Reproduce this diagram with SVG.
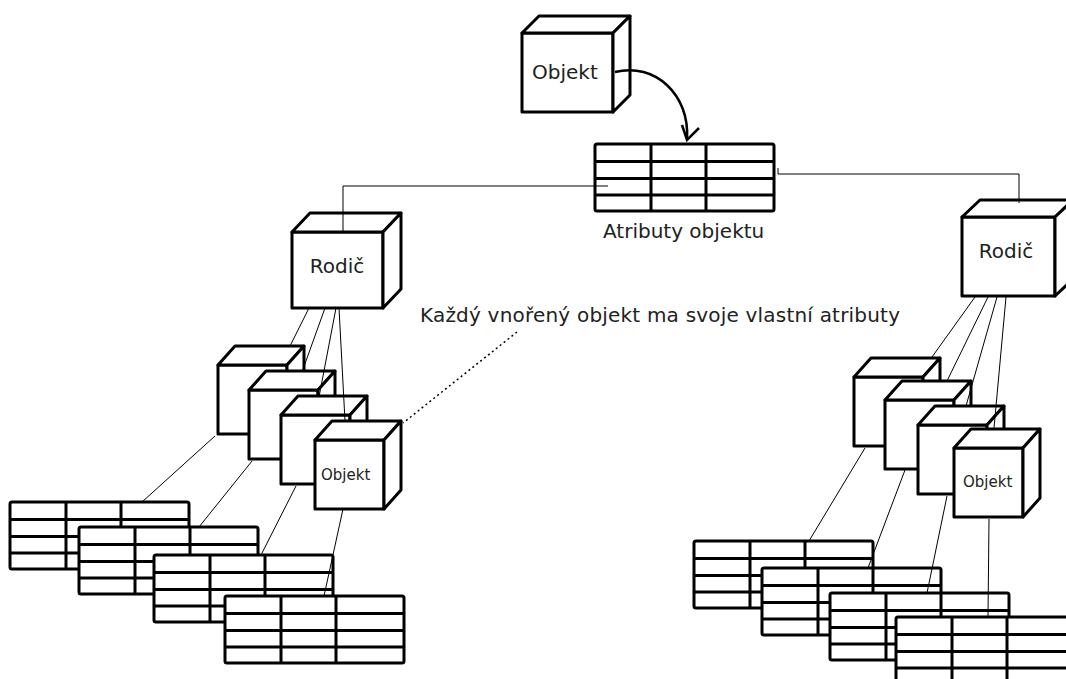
<svg xmlns="http://www.w3.org/2000/svg" xmlns:xlink="http://www.w3.org/1999/xlink" width="1066" height="679" viewBox="0 0 1066 679">
<style>
.c{fill:#fff;stroke:#000;stroke-width:3;stroke-linejoin:round}
.t{fill:#fff;stroke:#000;stroke-width:3}
.tl{stroke:#000;stroke-width:3;fill:none}
.ln{stroke:#000;stroke-width:1;fill:none}
.dot{stroke:#000;stroke-width:1.5;fill:none;stroke-dasharray:2 3}
.lbl{font-family:"DejaVu Sans",sans-serif;font-size:20px;fill:#222}
.sm{font-family:"DejaVu Sans",sans-serif;font-size:15px;fill:#222}
</style>
<defs>
<g id="tbl">
<rect class="t" x="0" y="0" width="179" height="67" rx="2"/>
<path class="tl" d="M0 17.5H179M0 34.5H179M0 51H179M56 0V67M111 0V67"/>
</g>
<g id="cb">
<rect class="c" x="0" y="0" width="69" height="69"/>
<polygon class="c" points="0,0 17,-19 86,-19 69,0"/>
<polygon class="c" points="69,0 86,-19 86,50 69,69"/>
</g>
</defs>

<g id="top-objekt">
<rect class="c" x="522" y="33" width="91" height="79"/>
<polygon class="c" points="522,33 539,16 630,16 613,33"/>
<polygon class="c" points="613,33 630,16 630,95 613,112"/>
<text class="lbl" x="532" y="79">Objekt</text>
</g>

<g id="top-table">
<use xlink:href="#tbl" x="595" y="144"/>
<text class="lbl" x="603" y="238">Atributy objektu</text>
</g>

<g id="rodic-left">
<rect class="c" x="292" y="232" width="91" height="76"/>
<polygon class="c" points="292,232 310,213 401,213 383,232"/>
<polygon class="c" points="383,232 401,213 401,289 383,308"/>
<text class="lbl" x="337" y="273" text-anchor="middle">Rodič</text>
</g>

<g id="rodic-right">
<rect class="c" x="962" y="217" width="93" height="79"/>
<polygon class="c" points="962,217 980,200 1073,200 1055,217"/>
<polygon class="c" points="1055,217 1073,200 1073,279 1055,296"/>
<text class="lbl" x="1006" y="258" text-anchor="middle">Rodič</text>
</g>

<g id="left-cube-1"><use xlink:href="#cb" x="218" y="365"/></g>
<g id="left-cube-2"><use xlink:href="#cb" x="249" y="390"/></g>
<g id="left-cube-3"><use xlink:href="#cb" x="281" y="415"/></g>
<g id="left-cube-4"><use xlink:href="#cb" x="315" y="440"/><text class="sm" x="321" y="480">Objekt</text></g>

<g id="right-cube-1"><use xlink:href="#cb" x="854" y="377"/></g>
<g id="right-cube-2"><use xlink:href="#cb" x="885" y="400"/></g>
<g id="right-cube-3"><use xlink:href="#cb" x="918" y="425"/></g>
<g id="right-cube-4"><use xlink:href="#cb" x="954" y="448"/><text class="sm" x="963" y="487">Objekt</text></g>

<g id="left-table-1"><use xlink:href="#tbl" x="10" y="502"/></g>
<g id="left-table-2"><use xlink:href="#tbl" x="79" y="527"/></g>
<g id="left-table-3"><use xlink:href="#tbl" x="154" y="555"/></g>
<g id="left-table-4"><use xlink:href="#tbl" x="225" y="596"/></g>

<g id="right-table-1"><use xlink:href="#tbl" x="694" y="541"/></g>
<g id="right-table-2"><use xlink:href="#tbl" x="762" y="568"/></g>
<g id="right-table-3"><use xlink:href="#tbl" x="830" y="593"/></g>
<g id="right-table-4"><use xlink:href="#tbl" x="896" y="617"/></g>

<g id="note">
<text class="lbl" x="420" y="322" textLength="480" lengthAdjust="spacing">Každý vnořený objekt ma svoje vlastní atributy</text>
</g>

<g id="connectors">
<path d="M615 72C655 62 690 95 687 139" fill="none" stroke="#000" stroke-width="2.5"/>
<polyline points="682,125 687,140 699,128" fill="none" stroke="#000" stroke-width="2.5"/>
<path class="ln" d="M608 186H343V232"/>
<path class="ln" d="M778 168V174H1019V203"/>
<path class="ln" d="M309 308L290 346M325 308L302 372M336 308L319 397M339 308L345 421"/>
<path class="ln" d="M975 297L932 357M988 297L947 381M997 297L966 406M1006 297L994 428"/>
<path class="ln" d="M215 436L142 502M252 461L199 527M296 486L261 555M343 509L324 596"/>
<path class="ln" d="M865 448L809 541M905 470L868 568M947 496L927 593M989 519L988 617"/>
<path class="dot" d="M517 332L403 423"/>
</g>
</svg>
